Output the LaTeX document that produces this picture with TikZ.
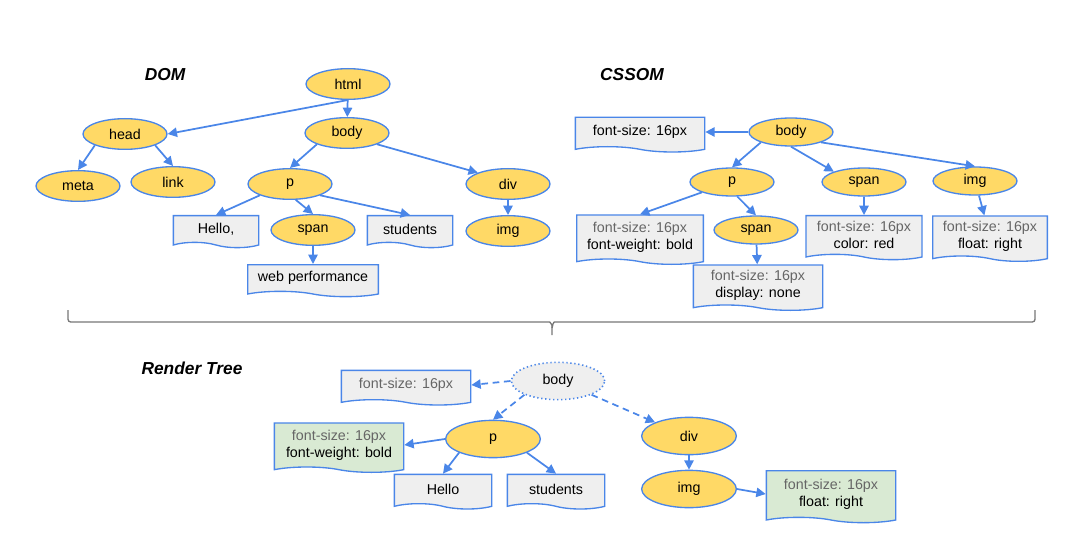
\documentclass[tikz,border=0pt]{standalone}
\usepackage{fontspec}
\setmainfont{Liberation Sans}
\usetikzlibrary{shapes.geometric,shapes.symbols,arrows.meta}

\definecolor{tagyellow}{HTML}{FFD966}
\definecolor{lineblue}{HTML}{4A86E8}
\definecolor{docgray}{HTML}{EFEFEF}
\definecolor{docgreen}{HTML}{D9EAD3}
\definecolor{softgray}{HTML}{666666}
\definecolor{bracegray}{HTML}{777777}

\tikzset{
  tag/.style={ellipse, draw=lineblue, line width=1pt, fill=tagyellow,
    minimum width=63pt, minimum height=23pt, inner sep=0pt},
  smalltag/.style={tag, minimum height=21pt},
  bigtag/.style={tag, minimum width=71pt, minimum height=28pt},
  doc/.style={tape, tape bend top=none, tape bend bottom=out and in,
    tape bend height=4pt, draw=lineblue, line width=1pt, fill=docgray,
    align=center, inner sep=1pt, minimum width=65pt, minimum height=24pt},
  greendoc/.style={doc, fill=docgreen},
  link/.style={draw=lineblue, line width=1.3pt, -{Triangle[length=7pt,width=7pt]}},
  dashlink/.style={link, dash pattern=on 5pt off 3.5pt},
  heading/.style={font=\fontsize{13}{15}\selectfont\bfseries\itshape},
}

\begin{document}
\begin{tikzpicture}[x=0.75pt, y=-0.75pt, font=\fontsize{10.7}{13}\selectfont]
\useasboundingbox (0,0) rectangle (1080,545);

% 标题
\node[heading] (domtitle) at (165,75) {DOM};
\node[heading] (cssomtitle) at (632,75) {CSSOM};
\node[heading] (rendertitle) at (192,368) {Render Tree};

% DOM 树
\node[tag] (html) at (348,84) {html};
\node[tag] (head) at (125,134) {head};
\node[tag] (body) at (347,133) {body};
\node[tag] (meta) at (78,186) {meta};
\node[tag] (link) at (173,182) {link};
\node[tag] (p) at (290,184) {p};
\node[tag] (div) at (508,184) {div};
\node[doc, minimum width=64pt] (hello) at (216,229) {Hello,};
\node[tag] (span) at (313,230) {span};
\node[doc, minimum width=64pt] (students) at (410,229) {students};
\node[tag] (img) at (508,231) {img};
\node[doc, minimum width=98pt] (web) at (313,278) {web performance};

\draw[link] (html.south) -- (head.east);
\draw[link] (html) -- (body);
\draw[link] (head.south west) -- (meta.north);
\draw[link] (head.south east) -- (link.north);
\draw[link] (body.south west) -- (p.north);
\draw[link] (body.south east) -- (div.north west);
\draw[link] (div) -- (img);
\draw[link] (p.south west) -- (hello.north);
\draw[link] (p.-70) -- (span.north);
\draw[link] (p.south east) -- (students.north);
\draw[link] (span) -- (web);

% CSSOM 树
\node[smalltag] (cbody) at (791,132) {body};
\node[doc, minimum width=97pt, minimum height=26pt] (cfs) at (640,132) {font-size: 16px};
\node[smalltag] (cp) at (732,182) {p};
\node[smalltag] (cspan) at (864,182) {span};
\node[smalltag] (cimg) at (975,181) {img};
\node[doc, minimum width=95pt, minimum height=37pt] (cpstyle) at (640,237)
  {\textcolor{softgray}{font-size: 16px}\\font-weight: bold};
\node[smalltag] (cspantwo) at (756,230) {span};
\node[doc, minimum width=97pt, minimum height=34pt] (cnone) at (758,285)
  {\textcolor{softgray}{font-size: 16px}\\display: none};
\node[doc, minimum width=87pt, minimum height=33pt] (cred) at (864,235)
  {\textcolor{softgray}{font-size: 16px}\\color: red};
\node[doc, minimum width=86pt, minimum height=34pt] (cfloat) at (990,236)
  {\textcolor{softgray}{font-size: 16px}\\float: right};

\draw[link] (cbody.west) -- (cfs.east);
\draw[link] (cbody.south west) -- (cp.north);
\draw[link] (cbody.south) -- (cspan.north west);
\draw[link] (cbody.south east) -- (cimg.north);
\draw[link] (cp.south west) -- (cpstyle.north);
\draw[link] (cp.-70) -- (cspantwo.north);
\draw[link] (cspantwo) -- (cnone);
\draw[link] (cspan) -- (cred);
\draw[link] (cimg) -- (cfloat);

% 大括号
\coordinate (BL) at (68,310);
\coordinate (BR) at (1035,310);
\coordinate (BM) at (552,335);
\draw[bracegray, line width=1pt, rounded corners=2pt]
  (BL) -- (68,322) -- (547,322) to[out=0,in=90] (BM |- 0,328) -- (BM);
\draw[bracegray, line width=1pt, rounded corners=2pt]
  (BR) -- (1035,322) -- (557,322) to[out=180,in=90] (BM |- 0,328);

% 渲染树
\node[bigtag, fill=docgray, dotted, line width=1.2pt, minimum width=70pt] (rbody) at (558,381) {body};
\node[doc, minimum width=97pt, minimum height=26pt] (rfs) at (406,385)
  {\textcolor{softgray}{font-size: 16px}};
\node[bigtag] (rp) at (493,439) {p};
\node[greendoc, minimum width=97pt, minimum height=37pt] (rpstyle) at (339,445)
  {\textcolor{softgray}{font-size: 16px}\\font-weight: bold};
\node[doc, minimum width=73pt, minimum height=26pt] (rhello) at (443,489) {Hello};
\node[doc, minimum width=73pt, minimum height=26pt] (rstudents) at (556,489) {students};
\node[bigtag] (rdiv) at (689,436) {div};
\node[bigtag] (rimg) at (689,489) {img};
\node[greendoc, minimum width=97pt, minimum height=39pt] (rfloat) at (831,494)
  {\textcolor{softgray}{font-size: 16px}\\float: right};

\draw[dashlink] (rbody.west) -- (rfs.east);
\draw[dashlink] (rbody.south west) -- (rp.north);
\draw[dashlink] (rbody.south east) -- (rdiv.north west);
\draw[link] (rp.west) -- (rpstyle.east);
\draw[link] (rp.south west) -- (rhello.north);
\draw[link] (rp.south east) -- (rstudents.north);
\draw[link] (rdiv) -- (rimg);
\draw[link] (rimg.east) -- (rfloat.west);
\end{tikzpicture}
\end{document}
